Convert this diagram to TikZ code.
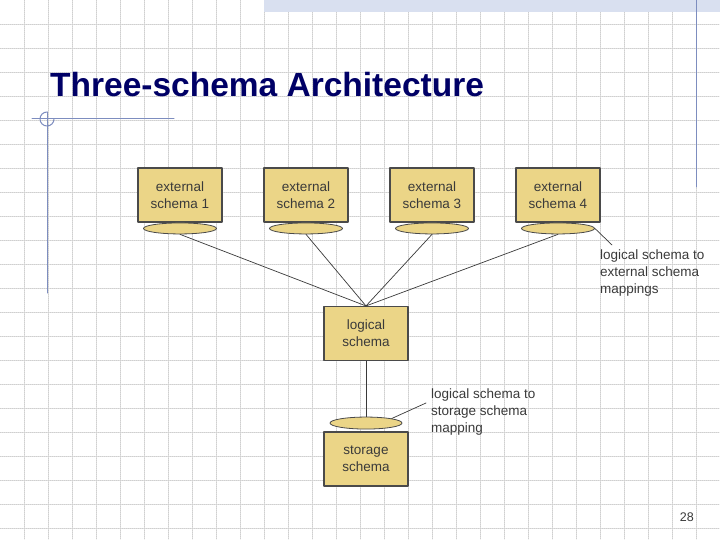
\documentclass[tikz,border=0pt]{standalone}
\usepackage{fontspec}
\setmainfont{Liberation Sans}
\usetikzlibrary{positioning,shapes.geometric,calc}
\definecolor{boxfill}{HTML}{EBD587}
\definecolor{boxline}{HTML}{4A4A4A}
\definecolor{titleblue}{HTML}{000066}
\definecolor{frameblue}{HTML}{7D8DBF}
\definecolor{gridgray}{HTML}{CFCFCF}
\definecolor{bandblue}{HTML}{D9E0F0}
\definecolor{inkgray}{HTML}{3A3A3A}

\begin{document}
\begin{tikzpicture}[x=1pt, y=-1pt, line cap=round, line join=round,
    gridline/.style={gridgray, line width=0.6pt, dash pattern=on 1pt off 1pt},
    schemabox/.style={draw=boxline, line width=1.1pt, fill=boxfill, minimum width=84pt, minimum height=54pt,
        inner sep=0pt, align=center, text=inkgray, font=\fontsize{13.5}{17.3}\selectfont},
    mapping/.style={ellipse, draw=boxline, line width=0.8pt, fill=boxfill, minimum width=73pt, minimum height=11pt, inner sep=0pt},
    link/.style={draw=inkgray, line width=0.7pt},
    note/.style={anchor=north west, align=left, inner sep=0pt, text=inkgray, font=\fontsize{13.5}{17}\selectfont}]

            \useasboundingbox (0,0) rectangle (720,540);
            \fill[white] (0,0) rectangle (720,540);

            \foreach \gx in {24,48,...,696} \draw[gridline] (\gx,0) -- (\gx,540);
            \foreach \gy in {24,48,...,528} \draw[gridline] (0,\gy) -- (720,\gy);

            \fill[bandblue] (264,0) rectangle (720,12);
            \draw[frameblue, line width=1pt] (696,0) -- (696,187);
            \draw[frameblue, line width=1pt] (32,119) -- (174,119);
            \draw[frameblue, line width=1pt] (47,112) -- (47,293);
            \draw[frameblue, line width=1pt] ($(47,119)+(7,0)$) arc[start angle=0, end angle=270, radius=7];

            \node[anchor=base west, inner sep=0pt, text=titleblue, font=\bfseries\fontsize{33.5}{40}\selectfont] (title) at (50,97) {Three-schema Architecture};

            \foreach \i/\x in {1/180,2/306,3/432,4/558} {
                \node[schemabox] (ext\i) at (\x,195) {external\\schema \i};
                \node[mapping, below=0pt of ext\i] (map\i) {};
            }

            \node[schemabox] (logical) at (366,333.5) {logical\\schema};
            \node[schemabox] (storage) at (366,459) {storage\\schema};
            \node[mapping, minimum width=72pt, minimum height=12pt, above=2pt of storage] (smap) {};

            \foreach \i in {1,...,4} \draw[link] (map\i.south) -- (logical.north);
            \draw[link] (logical.south) -- (smap.north);

            \node[note] (extnote) at (600,250) {logical schema to\\external schema\\mappings};
            \coordinate (extpin) at (612,245);
            \draw[link] (map4.east) -- (extpin);

            \node[note] (storenote) at (431,389) {logical schema to\\storage schema\\mapping};
            \coordinate (storepin) at (426,403);
            \draw[link] (smap.10) -- (storepin);

            \node[anchor=base east, inner sep=0pt, text=inkgray, font=\fontsize{12.5}{15}\selectfont] (pagenum) at (694,521.7) {28};

        \end{tikzpicture}
\end{document}
